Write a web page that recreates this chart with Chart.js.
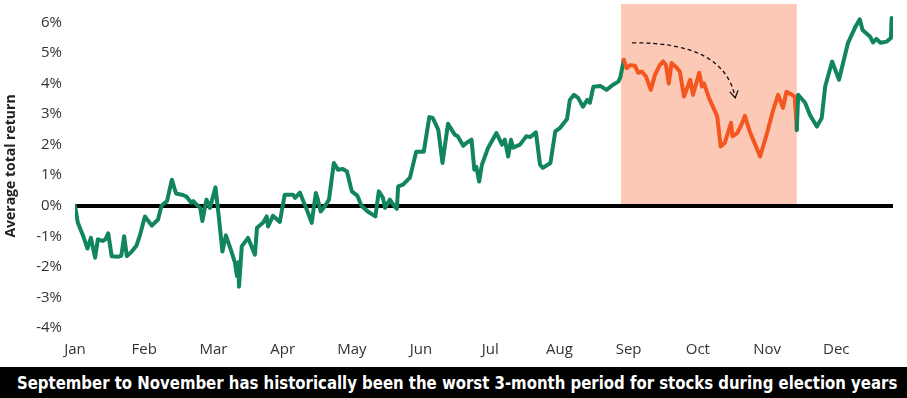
<!DOCTYPE html>
<html>
<head>
<meta charset="utf-8">
<script src="https://cdn.jsdelivr.net/npm/chart.js@4.4.1/dist/chart.umd.min.js"></script>
<style>
  html, body { margin: 0; padding: 0; background: #fff; }
  #wrap { position: relative; width: 907px; height: 367px; }
  #banner {
    width: 907px; height: 31px; background: #000; color: #fff;
    font-family: "Liberation Sans Narrow", "DejaVu Sans Condensed", Roboto, sans-serif;
    font-weight: bold; font-size: 18px; line-height: 31px;
    white-space: nowrap; overflow: hidden; position: relative;
  }
  #banner span { position: absolute; left: 17px; top: 0; transform-origin: 0 50%; }
</style>
</head>
<body>
<div id="wrap"><canvas id="returnChart"></canvas></div>
<div id="banner"><span id="bannerText">September to November has historically been the worst 3-month period for stocks during election years</span></div>
<script>
// month ticks along the x axis (0 = start of Jan)
const monthLabels = ['Jan', 'Feb', 'Mar', 'Apr', 'May', 'Jun', 'Jul', 'Aug', 'Sep', 'Oct', 'Nov', 'Dec'];
const yTicks = [-4, -3, -2, -1, 0, 1, 2, 3, 4, 5, 6];

// position in the year, in months
const yearPos = [
  0.00, 0.04, 0.12, 0.18, 0.23, 0.29, 0.33, 0.40, 0.44, 0.48, 0.53, 0.62, 0.67, 0.71, 0.75, 0.82, 0.89, 0.94,
  1.01, 1.11, 1.20, 1.25, 1.33, 1.40, 1.46, 1.56, 1.61, 1.68, 1.71, 1.76, 1.81, 1.84, 1.90, 1.95,
  2.03, 2.08, 2.13, 2.18, 2.25, 2.31, 2.34, 2.36, 2.37, 2.41, 2.50, 2.60, 2.63, 2.72, 2.77, 2.79, 2.86, 2.96,
  3.03, 3.15, 3.18, 3.25, 3.29, 3.35, 3.42, 3.48, 3.51, 3.55, 3.61, 3.67, 3.74, 3.80, 3.87, 3.93,
  4.00, 4.08, 4.14, 4.23, 4.34, 4.39, 4.45, 4.48, 4.55, 4.60, 4.65, 4.67, 4.74, 4.84, 4.93,
  5.04, 5.12, 5.17, 5.25, 5.31, 5.39, 5.49, 5.53, 5.61, 5.66, 5.73, 5.77, 5.80, 5.84, 5.88, 5.97,
  6.09, 6.17, 6.21, 6.26, 6.30, 6.33, 6.43, 6.52, 6.58, 6.66, 6.72, 6.76, 6.87, 6.94,
  7.01, 7.11, 7.15, 7.21, 7.27, 7.34, 7.40, 7.44, 7.49, 7.59, 7.68, 7.77, 7.85, 7.88,
  7.93, 7.97, 8.02, 8.09, 8.14, 8.19, 8.25, 8.32, 8.38, 8.45, 8.50, 8.54, 8.58, 8.62, 8.68, 8.74, 8.80, 8.89, 8.93,
  9.02, 9.06, 9.09, 9.16, 9.25, 9.28, 9.33, 9.39, 9.48, 9.50, 9.57, 9.63, 9.68, 9.75, 9.90,
  10.00, 10.09, 10.16, 10.23, 10.28, 10.36, 10.40, 10.43,
  10.45, 10.55, 10.62, 10.72, 10.79, 10.84, 10.94, 11.04, 11.17, 11.27, 11.34, 11.38, 11.49, 11.53, 11.58, 11.64, 11.73, 11.79, 11.80
];

// average total return, %
const avgReturn = [
  0.00, -0.55, -1.00, -1.40, -1.05, -1.70, -1.10, -1.15, -1.10, -0.90, -1.65, -1.67, -1.63, -1.00, -1.65, -1.50, -1.30, -0.95,
  -0.35, -0.65, -0.45, 0.00, 0.15, 0.85, 0.40, 0.35, 0.30, 0.10, 0.15, 0.03, -0.07, -0.50, 0.20, -0.07,
  0.60, -0.40, -1.50, -0.97, -1.43, -1.85, -2.30, -1.85, -2.65, -1.33, -1.05, -1.60, -0.72, -0.55, -0.35, -0.68, -0.33, -0.53,
  0.36, 0.36, 0.26, 0.43, 0.20, -0.13, -0.56, 0.42, 0.20, -0.19, -0.02, 0.20, 1.40, 1.18, 1.20, 1.12,
  0.47, 0.33, 0.00, -0.19, -0.35, 0.47, 0.26, -0.07, 0.20, 0.03, -0.10, 0.63, 0.69, 0.92, 1.77,
  1.77, 2.90, 2.87, 2.48, 1.40, 2.68, 2.32, 2.27, 1.96, 2.06, 2.16, 1.18, 1.27, 0.79, 1.34, 1.90,
  2.38, 2.00, 2.16, 1.61, 2.16, 1.90, 2.00, 2.27, 2.25, 2.40, 1.34, 1.24, 1.40, 2.43,
  2.55, 2.84, 3.46, 3.63, 3.53, 3.24, 3.46, 3.37, 3.89, 3.92, 3.79, 3.95, 4.06, 4.20,
  4.77, 4.50, 4.60, 4.58, 4.35, 4.39, 4.23, 3.79, 4.28, 4.60, 4.72, 4.60, 4.00, 4.67, 4.55, 4.39, 3.57, 4.12, 3.63,
  4.35, 3.90, 4.00, 3.53, 3.08, 2.92, 1.94, 2.06, 2.71, 2.27, 2.38, 2.65, 2.94, 2.43, 1.61,
  2.38, 3.14, 3.63, 3.20, 3.73, 3.63, 3.57, 2.48,
  3.63, 3.37, 2.97, 2.59, 2.87, 3.90, 4.72, 4.12, 5.33, 5.82, 6.10, 5.75, 5.53, 5.34, 5.46, 5.33, 5.37, 5.49, 6.14
];

// Sep - mid Nov window (months)
const shadeRange = [7.89, 10.43];
// dashed arrow: start, control, end (month, %)
const arrowPath = [[8.05, 5.33], [9.39, 5.36], [9.54, 3.53]];

const green = '#11855b';
const orange = '#f4561f';
const pink = '#fcc9b7';

const inShade = ctx => ctx.p0.parsed.x >= shadeRange[0] && ctx.p1.parsed.x <= shadeRange[1];

// shaded window drawn under the axes
const shadePlugin = {
  id: 'shade',
  beforeDraw(chart) {
    const { ctx, scales: { x, y } } = chart;
    const x0 = x.getPixelForValue(shadeRange[0]);
    const x1 = x.getPixelForValue(shadeRange[1]);
    const yTop = y.getPixelForValue(y.max);
    const yBot = y.getPixelForValue(0);
    ctx.save();
    ctx.fillStyle = pink;
    ctx.fillRect(x0, yTop, x1 - x0, yBot - yTop);
    ctx.restore();
  }
};

// dashed curved arrow
const arrowPlugin = {
  id: 'arrow',
  afterDatasetsDraw(chart) {
    const { ctx, scales: { x, y } } = chart;
    const p = arrowPath.map(a => [x.getPixelForValue(a[0]), y.getPixelForValue(a[1])]);
    ctx.save();
    ctx.strokeStyle = '#111';
    ctx.lineWidth = 1.3;
    ctx.setLineDash([4, 3]);
    ctx.beginPath();
    ctx.moveTo(p[0][0], p[0][1]);
    ctx.quadraticCurveTo(p[1][0], p[1][1], p[2][0], p[2][1]);
    ctx.stroke();
    // head
    const ang = Math.atan2(p[2][1] - p[1][1], p[2][0] - p[1][0]);
    const len = 8;
    ctx.setLineDash([]);
    ctx.beginPath();
    ctx.moveTo(p[2][0] - len * Math.cos(ang - 0.55), p[2][1] - len * Math.sin(ang - 0.55));
    ctx.lineTo(p[2][0], p[2][1]);
    ctx.lineTo(p[2][0] - len * Math.cos(ang + 0.55), p[2][1] - len * Math.sin(ang + 0.55));
    ctx.stroke();
    ctx.restore();
  }
};

const tickFont = { family: '"Open Sans", sans-serif', size: 15 };

new Chart(document.getElementById('returnChart'), {
  type: 'line',
  data: {
    datasets: [{
      data: yearPos.map((m, i) => ({ x: m, y: avgReturn[i] })),
      borderColor: green,
      borderWidth: 4,
      pointRadius: 0,
      tension: 0,
      borderJoinStyle: 'round',
      borderCapStyle: 'round',
      segment: {
        borderColor: ctx => inShade(ctx) ? orange : green
      }
    }]
  },
  options: {
    responsive: true,
    maintainAspectRatio: false,
    animation: false,
    layout: { padding: { top: 4, right: 14, left: 0, bottom: 0 } },
    plugins: {
      legend: { display: false },
      tooltip: { enabled: false }
    },
    scales: {
      x: {
        type: 'linear',
        min: 0,
        max: 11.82,
        afterBuildTicks: scale => { scale.ticks = monthLabels.map((l, i) => ({ value: i })); },
        afterFit: scale => {
          scale.height = 39;
          scale.paddingLeft = 0;
          scale.paddingRight = 0;
        },
        ticks: {
          autoSkip: false,
          maxRotation: 0,
          padding: 13,
          color: '#333',
          font: tickFont,
          callback: v => monthLabels[v]
        },
        grid: { display: false, drawTicks: false },
        border: { display: false }
      },
      y: {
        min: -4,
        max: 6.6,
        afterBuildTicks: scale => { scale.ticks = yTicks.map(v => ({ value: v })); },
        afterFit: scale => {
          scale.width = 75;
          scale.paddingTop = 0;
          scale.paddingBottom = 0;
        },
        ticks: {
          padding: 13,
          color: '#333',
          font: tickFont,
          callback: v => v + '%'
        },
        grid: {
          drawTicks: false,
          color: c => c.tick && c.tick.value === 0 ? '#000' : 'rgba(0,0,0,0)',
          lineWidth: c => c.tick && c.tick.value === 0 ? 4 : 0
        },
        border: { display: false },
        title: {
          display: true,
          text: 'Average total return',
          color: '#222',
          padding: { top: 3, bottom: 0 },
          font: { family: '"Open Sans", sans-serif', size: 14, weight: 'bold' }
        }
      }
    }
  },
  plugins: [shadePlugin, arrowPlugin]
});

// stretch banner text to its width in the reference
const bt = document.getElementById('bannerText');
bt.style.transform = 'scaleX(' + (880 / bt.offsetWidth) + ')';
</script>
</body>
</html>
